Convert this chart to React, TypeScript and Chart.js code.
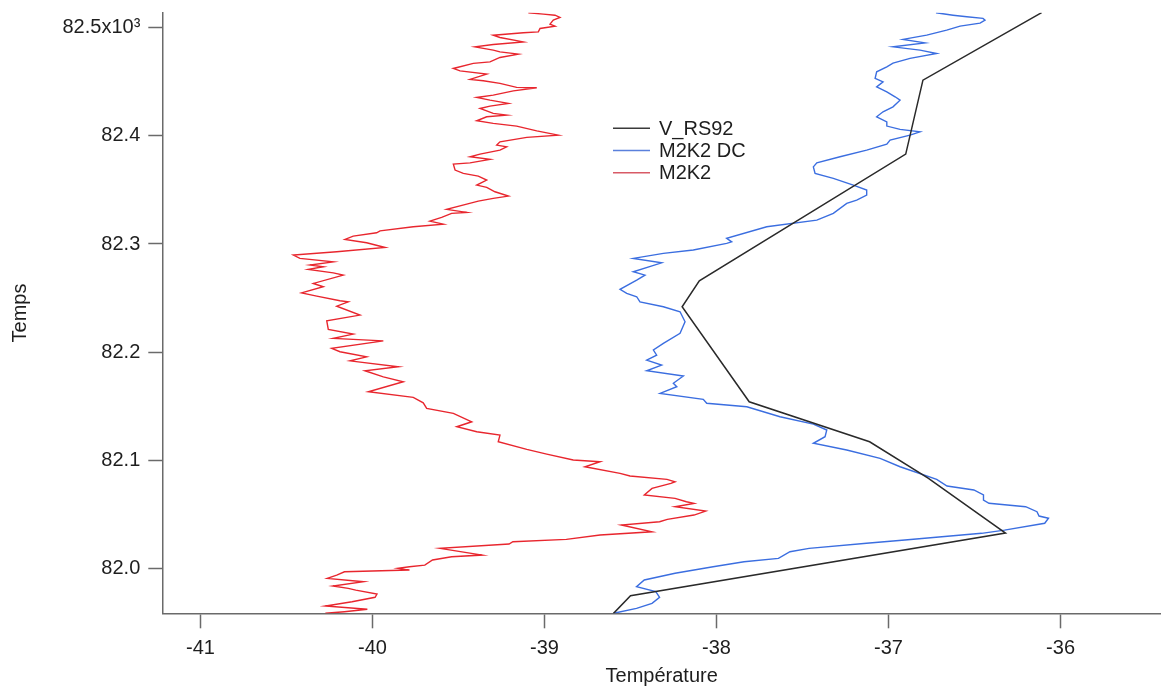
import React, { useEffect, useRef } from 'react';
import { Chart, registerables } from 'chart.js';

Chart.register(...registerables);

const FONT = '"Liberation Sans", Arial, Helvetica, sans-serif';

// ---- Data ----
const seriesLabels = ['V_RS92', 'M2K2 DC', 'M2K2'];
const xTitle = 'Température';
const yTitle = 'Temps';

const tempTickValues = [-41, -40, -39, -38, -37, -36];
const tempTickLabels = ['-41', '-40', '-39', '-38', '-37', '-36'];
const timeTickValues = [82000, 82100, 82200, 82300, 82400, 82500];
const timeTickLabels = ['82.0', '82.1', '82.2', '82.3', '82.4', '82.5x10\u00B3'];

const rs92Temp = [-38.6, -38.5, -36.32, -36.77, -37.11, -37.81, -38.2, -38.1, -36.9, -36.8, -36.11];
const rs92Time = [81958, 81974.5, 82032.5, 82083.4, 82117, 82154, 82241.9, 82265.9, 82383.2, 82451.6, 82514];

const dcTemp = [
  -36.724, -36.625, -36.545, -36.451, -36.439, -36.468, -36.584, -36.662, -36.778, -36.916,
  -36.788, -36.974, -36.817, -36.72, -36.875, -36.974, -37.01, -37.069, -37.078, -37.032,
  -37.069, -37.01, -36.962, -36.933, -36.974, -37.032, -37.069, -37.01, -37.01, -36.933,
  -36.817, -36.875, -36.991, -37.01, -37.127, -37.282, -37.417, -37.437, -37.427, -37.321,
  -37.205, -37.127, -37.127, -37.185, -37.243, -37.321, -37.417, -37.708, -37.941, -37.912,
  -37.941, -38.135, -38.309, -38.484, -38.319, -38.484, -38.416, -38.464, -38.561, -38.522,
  -38.464, -38.445, -38.309, -38.212, -38.183, -38.212, -38.309, -38.367, -38.348, -38.406,
  -38.319, -38.406, -38.193, -38.251, -38.231, -38.328, -38.077, -38.057, -37.824, -37.631,
  -37.437, -37.359, -37.369, -37.437, -37.243, -37.049, -36.933, -36.72, -36.66, -36.504,
  -36.448, -36.448, -36.416, -36.203, -36.137, -36.125, -36.07, -36.092, -36.326, -36.459,
  -36.905, -37.128, -37.462, -37.573, -37.64, -37.84, -38.02, -38.241, -38.42, -38.465,
  -38.353, -38.331, -38.375, -38.465, -38.598,
];
const dcTime = [
  82513.9, 82511.7, 82510.2, 82508.7, 82507.1, 82504.3, 82501.6, 82497.9, 82493.2, 82489.3,
  82486.1, 82482.4, 82479.4, 82476.3, 82471.7, 82467.3, 82463.9, 82459.3, 82453.2, 82450.0,
  82445.4, 82440.8, 82436.2, 82433.1, 82426.9, 82422.3, 82417.7, 82413.0, 82409.1, 82406.0,
  82403.8, 82400.7, 82396.1, 82392.4, 82386.9, 82380.7, 82375.1, 82371.4, 82365.3, 82360.7,
  82354.5, 82349.9, 82345.2, 82340.6, 82337.6, 82328.3, 82322.1, 82315.9, 82305.2, 82302.0,
  82300.6, 82294.4, 82291.3, 82286.7, 82282.6, 82274.3, 82271.2, 82266.6, 82258.0, 82254.3,
  82251.2, 82246.5, 82241.9, 82237.3, 82228.0, 82217.3, 82208.1, 82201.9, 82197.2, 82192.6,
  82188.0, 82182.7, 82177.8, 82171.1, 82167.9, 82161.8, 82156.3, 82152.6, 82149.4, 82140.2,
  82133.4, 82127.9, 82121.7, 82115.6, 82109.4, 82101.7, 82093.9, 82082.2, 82076.1, 82072.4,
  82067.8, 82063.1, 82060.1, 82056.9, 82052.3, 82048.3, 82046.2, 82041.6, 82035.3, 82032.3,
  82026.1, 82023.1, 82018.4, 82015.3, 82009.1, 82006.0, 82001.4, 81995.3, 81989.1, 81982.9,
  81978.3, 81973.1, 81967.5, 81962.9, 81958.3,
];

const m2k2Temp = [
  -39.094, -39.007, -38.939, -38.91, -38.949, -38.968, -38.939, -39.026, -39.036, -39.123,
  -39.298, -39.259, -39.123, -39.298, -39.404, -39.298, -39.259, -39.152, -39.259, -39.317,
  -39.414, -39.53, -39.491, -39.336, -39.433, -39.356, -39.259, -39.162, -39.045, -39.181,
  -39.298, -39.394, -39.317, -39.21, -39.317, -39.375, -39.298, -39.22, -39.336, -39.394,
  -39.298, -39.162, -39.045, -38.92, -39.103, -39.259, -39.278, -39.22, -39.259, -39.375,
  -39.433, -39.317, -39.433, -39.53, -39.52, -39.472, -39.385, -39.336, -39.394, -39.336,
  -39.288, -39.21, -39.298, -39.385, -39.452, -39.569, -39.452, -39.54, -39.598, -39.666,
  -39.588, -39.763, -39.956, -39.976, -40.112, -40.16, -40.034, -39.927, -40.208, -40.46,
  -40.422, -40.228, -40.363, -40.286, -40.373, -40.228, -40.17, -40.344, -40.286, -40.412,
  -40.324, -40.189, -40.141, -40.208, -40.073, -40.266, -40.257, -40.112, -40.228, -39.937,
  -40.237, -40.189, -40.034, -40.131, -39.85, -40.044, -39.937, -39.821, -40.024, -39.763,
  -39.705, -39.685, -39.53, -39.423, -39.51, -39.394, -39.259, -39.269, -39.103, -38.987,
  -38.833, -38.677, -38.765, -38.561, -38.503, -38.288, -38.241, -38.265, -38.375, -38.42,
  -38.241, -38.175, -38.131, -38.241, -38.063, -38.131, -38.286, -38.331, -38.553, -38.375,
  -38.677, -38.873, -39.184, -39.206, -39.607, -39.362, -39.54, -39.651, -39.696, -39.785,
  -39.852, -39.785, -40.163, -40.208, -40.263, -40.052, -40.23, -40.141, -40.097, -39.974,
  -39.985, -40.119, -40.274, -40.03, -40.163, -40.274,
];
const m2k2Time = [
  82513.9, 82512.7, 82511.7, 82509.6, 82507.1, 82503.4, 82501.6, 82499.4, 82496.3, 82495.4,
  82493.2, 82491.1, 82487.0, 82484.6, 82482.4, 82479.4, 82477.8, 82475.7, 82472.6, 82468.5,
  82467.1, 82462.4, 82460.2, 82457.2, 82452.3, 82451.0, 82448.6, 82444.9, 82444.5, 82441.7,
  82437.7, 82435.6, 82433.1, 82430.1, 82427.6, 82425.4, 82420.8, 82419.2, 82417.7, 82414.0,
  82411.6, 82409.1, 82404.7, 82400.7, 82398.6, 82394.5, 82391.5, 82389.9, 82386.9, 82383.2,
  82380.7, 82378.3, 82375.1, 82373.9, 82368.4, 82365.3, 82362.8, 82359.1, 82354.5, 82352.4,
  82348.3, 82344.3, 82342.2, 82339.7, 82336.9, 82332.0, 82329.2, 82328.3, 82324.6, 82321.2,
  82318.4, 82315.9, 82312.2, 82310.4, 82307.3, 82304.2, 82301.1, 82296.8, 82292.8, 82289.7,
  82286.7, 82283.5, 82280.5, 82278.9, 82276.5, 82273.3, 82271.2, 82263.5, 82260.4, 82254.8,
  82251.8, 82247.5, 82246.5, 82242.5, 82234.2, 82228.9, 82221.0, 82216.6, 82212.7, 82210.4,
  82203.4, 82200.3, 82195.6, 82191.9, 82186.4, 82182.7, 82177.1, 82172.5, 82163.3, 82158.1,
  82153.1, 82147.9, 82143.3, 82135.5, 82130.9, 82126.3, 82123.2, 82117.0, 82110.0, 82105.6,
  82100.1, 82098.5, 82093.9, 82087.8, 82085.3, 82082.2, 82080.0, 82078.5, 82073.9, 82067.7,
  82064.6, 82061.5, 82060.0, 82056.9, 82052.9, 82049.2, 82045.2, 82043.0, 82040.0, 82033.7,
  82030.7, 82026.7, 82024.5, 82022.4, 82018.4, 82012.2, 82010.6, 82007.6, 82002.9, 82001.4,
  81999.9, 81998.3, 81996.7, 81993.7, 81990.6, 81987.5, 81983.5, 81981.4, 81979.8, 81976.1,
  81973.1, 81969.0, 81965.0, 81962.0, 81959.8, 81958.3,
];

// ---- Styling ----
const COLORS = ['#2a2a2a', '#3b6ee0', '#e8262e'];
const LEGEND_COLORS = ['#3a3a3a', '#5a80dc', '#d85a66'];
const AXIS = '#6a6a6a';
const TEXT = '#1e1e1e';

function zip(xs: number[], ys: number[]) {
  const n = Math.min(xs.length, ys.length);
  const out: { x: number; y: number }[] = [];
  for (let i = 0; i < n; i++) out.push({ x: xs[i], y: ys[i] });
  return out;
}

const insideLegend = {
  id: 'insideLegend',
  afterDatasetsDraw(chart: any) {
    const ctx = chart.ctx as CanvasRenderingContext2D;
    const x0 = 613, x1 = 650, tx = 659, y0 = 128.3, dy = 22.2;
    ctx.save();
    ctx.font = `20px ${FONT}`;
    ctx.textBaseline = 'middle';
    ctx.textAlign = 'left';
    chart.data.datasets.forEach((ds: any, i: number) => {
      const y = y0 + i * dy;
      ctx.strokeStyle = LEGEND_COLORS[i];
      ctx.lineWidth = 1.5;
      ctx.beginPath();
      ctx.moveTo(x0, y);
      ctx.lineTo(x1, y);
      ctx.stroke();
      ctx.fillStyle = TEXT;
      ctx.fillText(ds.label, tx, y + 1);
    });
    ctx.restore();
  },
};

export default function App() {
  const ref = useRef<HTMLCanvasElement>(null);

  useEffect(() => {
    if (!ref.current) return;
    const lineDs = (label: string, data: any, color: string, width: number) => ({
      label,
      data,
      borderColor: color,
      backgroundColor: color,
      borderWidth: width,
      showLine: true,
      pointRadius: 0,
      pointHoverRadius: 0,
      tension: 0,
      fill: false,
    });
    const chart = new Chart(ref.current, {
      type: 'scatter',
      data: {
        datasets: [
          lineDs(seriesLabels[0], zip(rs92Temp, rs92Time), COLORS[0], 1.5),
          lineDs(seriesLabels[1], zip(dcTemp, dcTime), COLORS[1], 1.4),
          lineDs(seriesLabels[2], zip(m2k2Temp, m2k2Time), COLORS[2], 1.4),
        ],
      },
      options: {
        animation: false,
        responsive: false,
        events: [],
        layout: { padding: { top: 12.7, left: 0, right: 0, bottom: 0 } },
        plugins: {
          legend: { display: false },
          tooltip: { enabled: false },
        },
        scales: {
          x: {
            type: 'linear',
            min: -41.222,
            max: -35.416,
            border: { display: true, color: AXIS, width: 1.5 },
            grid: {
              display: true,
              drawOnChartArea: false,
              drawTicks: true,
              tickLength: 15,
              tickColor: AXIS,
              tickWidth: 1.5,
              color: AXIS,
            },
            afterBuildTicks: (s: any) => {
              s.ticks = tempTickValues.map((v) => ({ value: v }));
            },
            ticks: {
              autoSkip: false,
              maxRotation: 0,
              padding: 8,
              color: TEXT,
              font: { family: FONT, size: 20 },
              callback: (v: any) => tempTickLabels[tempTickValues.indexOf(Number(v))] ?? String(v),
            },
            title: {
              display: true,
              text: xTitle,
              color: TEXT,
              font: { family: FONT, size: 20, lineHeight: 1.1 },
              padding: { top: 0, bottom: 0 },
            },
            afterFit: (s: any) => {
              s.height = 73.7;
              s.paddingLeft = 0;
              s.paddingRight = 0;
            },
          } as any,
          y: {
            type: 'linear',
            min: 81958.3,
            max: 82514,
            border: { display: true, color: AXIS, width: 1.5 },
            grid: {
              display: true,
              drawOnChartArea: false,
              drawTicks: true,
              tickLength: 14,
              tickColor: AXIS,
              tickWidth: 1.5,
              color: AXIS,
            },
            afterBuildTicks: (s: any) => {
              s.ticks = timeTickValues.map((v) => ({ value: v }));
            },
            ticks: {
              autoSkip: false,
              padding: 8,
              color: TEXT,
              font: { family: FONT, size: 20 },
              callback: (v: any) => timeTickLabels[timeTickValues.indexOf(Number(v))] ?? String(v),
            },
            title: {
              display: true,
              text: yTitle,
              color: TEXT,
              font: { family: FONT, size: 20, lineHeight: 1.2 },
              padding: { top: 8.5, bottom: 0 },
            },
            afterFit: (s: any) => {
              s.width = 162.3;
              s.paddingTop = 0;
              s.paddingBottom = 0;
            },
          } as any,
        },
      },
      plugins: [insideLegend],
    });
    return () => chart.destroy();
  }, []);

  return (
    <div style={{ position: 'absolute', left: 0, top: 0, width: 1161, height: 687, background: '#ffffff' }}>
      <canvas ref={ref} width={1161} height={687} style={{ display: 'block' }} />
    </div>
  );
}
